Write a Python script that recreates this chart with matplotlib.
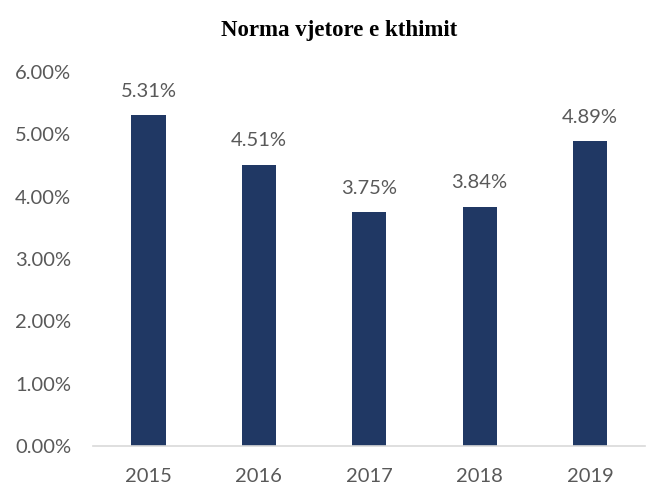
import matplotlib
matplotlib.use("Agg")
import matplotlib.pyplot as plt
from matplotlib.ticker import FuncFormatter

years = ["2015", "2016", "2017", "2018", "2019"]
values = [5.31, 4.51, 3.75, 3.84, 4.89]
yticks = [0, 1, 2, 3, 4, 5, 6]

fig = plt.figure(figsize=(6.53, 4.86), dpi=100)
ax = fig.add_axes([0.143, 0.0823, 0.845, 0.770])
bars = ax.bar(years, values, width=0.31, color="#203864")
ax.set_ylim(0, 6)
ax.set_xlim(-0.5, 4.5)
ax.set_yticks(yticks)
ax.yaxis.set_major_formatter(FuncFormatter(lambda v, p: f"{v:.2f}%"))
for s in ["top", "right", "left"]:
    ax.spines[s].set_visible(False)
ax.spines["bottom"].set_color("#d9d9d9")
ax.spines["bottom"].set_linewidth(1.2)
ax.tick_params(axis="both", length=0, labelsize=14.5, labelcolor="#595959")
ax.tick_params(axis="x", pad=16)
ax.tick_params(axis="y", pad=16)
for lbl in ax.get_xticklabels() + ax.get_yticklabels():
    lbl.set_family("Lato")
for b, v in zip(bars, values):
    ax.annotate(f"{v:.2f}%", (b.get_x() + b.get_width() / 2, v), xytext=(0, 11),
                textcoords="offset points", ha="center", va="bottom",
                fontsize=14.5, color="#595959", family="Lato")
fig.text(0.52, 0.938, "Norma vjetore e kthimit", ha="center", va="center",
         fontsize=16.5, fontweight="bold", family="Liberation Serif")
fig.savefig("out.png", dpi=100)
